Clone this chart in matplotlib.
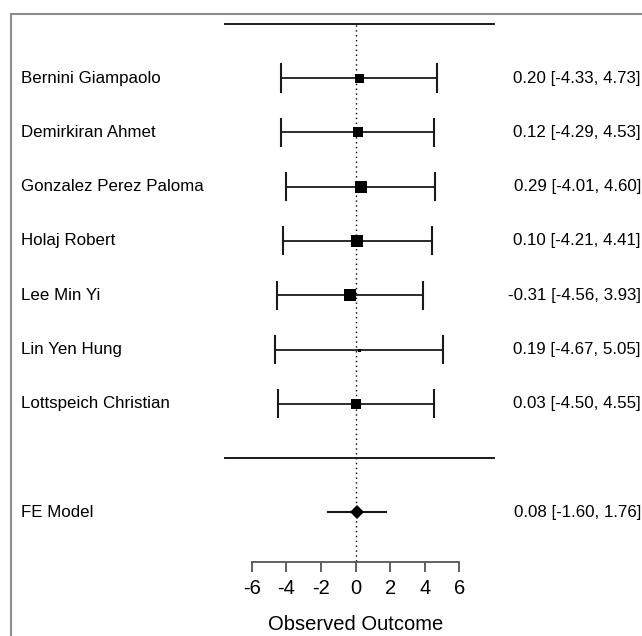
"""Forest plot (fixed-effect model) of observed outcomes per rater."""
import matplotlib
matplotlib.use("Agg")
import matplotlib.pyplot as plt
from matplotlib.patches import Rectangle

plt.rcParams["font.family"] = ["Liberation Sans", "DejaVu Sans"]

# study data
studies = ["Bernini Giampaolo", "Demirkiran Ahmet", "Gonzalez Perez Paloma",
           "Holaj Robert", "Lee Min Yi", "Lin Yen Hung", "Lottspeich Christian"]
estimate = [0.20, 0.12, 0.29, 0.10, -0.31, 0.19, 0.03]
ci_lower = [-4.33, -4.29, -4.01, -4.21, -4.56, -4.67, -4.50]
ci_upper = [4.73, 4.53, 4.60, 4.41, 3.93, 5.05, 4.55]
weights = [9.0, 10.0, 12.0, 11.5, 12.5, 3.0, 9.5]   # relative

# pooled estimate
model_label = "FE Model"
model_est, model_lo, model_hi = 0.08, -1.60, 1.76

x_ticks = [-6, -4, -2, 0, 2, 4, 6]
x_label = "Observed Outcome"

W, H = 642, 636
fig = plt.figure(figsize=(W / 100, H / 100), dpi=100)
ax = fig.add_axes([0, 0, 1, 1])

# pixel layout: x=0 at 355.5 px, 17.3 px/unit; rows 54.3 px apart
ax.set_xlim(-355.5 / 17.3, (W - 355.5) / 17.3)
ax.set_ylim(7 - (H - 78) / 54.3, 7 + 78 / 54.3)

n = len(studies)
rows = list(range(n, 0, -1))
lab_x = -19.34
txt_x = 16.5
cap = 0.25
lc = "#1a1a1a"
fs = 12.2

for name, y, est, lo, hi, w in zip(studies, rows, estimate, ci_lower, ci_upper, weights):
    ax.plot([lo, hi], [y, y], color=lc, lw=1.3, solid_capstyle="butt")
    ax.plot([lo, lo], [y - cap, y + cap], color=lc, lw=1.5)
    ax.plot([hi, hi], [y - cap, y + cap], color=lc, lw=1.5)
    ax.plot(est, y, marker="s", color="black", ms=w * 0.72, mew=0, zorder=4)
    ax.text(lab_x, y, name, ha="left", va="center", fontsize=fs)
    ax.text(txt_x, y, f"{est:.2f} [{lo:.2f}, {hi:.2f}]", ha="right", va="center",
            fontsize=fs)

# top and separator lines, zero reference
ax.plot([-7.56, 7.98], [n + 1, n + 1], color=lc, lw=1.4)
ax.plot([-7.56, 7.98], [0, 0], color=lc, lw=1.4)
ax.plot([0, 0], [-1.9, n + 1], color="black", lw=1.0, ls=(0, (1, 2.5)), zorder=1)

# summary row
ym = -1
ax.plot([model_lo, model_hi], [ym, ym], color=lc, lw=1.5)
ax.plot(model_est, ym, marker="D", color="black", ms=7.6, mew=0, zorder=4)
ax.text(lab_x, ym, model_label, ha="left", va="center", fontsize=fs)
ax.text(txt_x, ym, f"{model_est:.2f} [{model_lo:.2f}, {model_hi:.2f}]",
        ha="right", va="center", fontsize=fs)

# axis
for s in ["top", "right", "left"]:
    ax.spines[s].set_visible(False)
ax.spines["bottom"].set_position(("data", -1.91))
ax.spines["bottom"].set_bounds(x_ticks[0], x_ticks[-1])
ax.spines["bottom"].set_color("#555555")
ax.spines["bottom"].set_linewidth(1.3)
ax.set_xticks(x_ticks)
ax.set_xticklabels([str(t) for t in x_ticks])
ax.tick_params(axis="x", direction="out", length=7.5, width=1.3, color="#555555",
               labelsize=14.5, pad=5)
ax.set_yticks([])
ax.set_xlabel(x_label, fontsize=14.5, labelpad=12)
ax.xaxis.label.set_x(355.5 / W)   # centre the label under x = 0
ax.patch.set_visible(False)

# plot-region frame (cut at right/bottom)
fig.add_artist(Rectangle((11 / W, -0.1), 2, 1 - 14 / H + 0.1, transform=fig.transFigure,
                         fill=False, edgecolor="#8c8c8c", lw=1.5))

fig.savefig("out.png", dpi=100)
